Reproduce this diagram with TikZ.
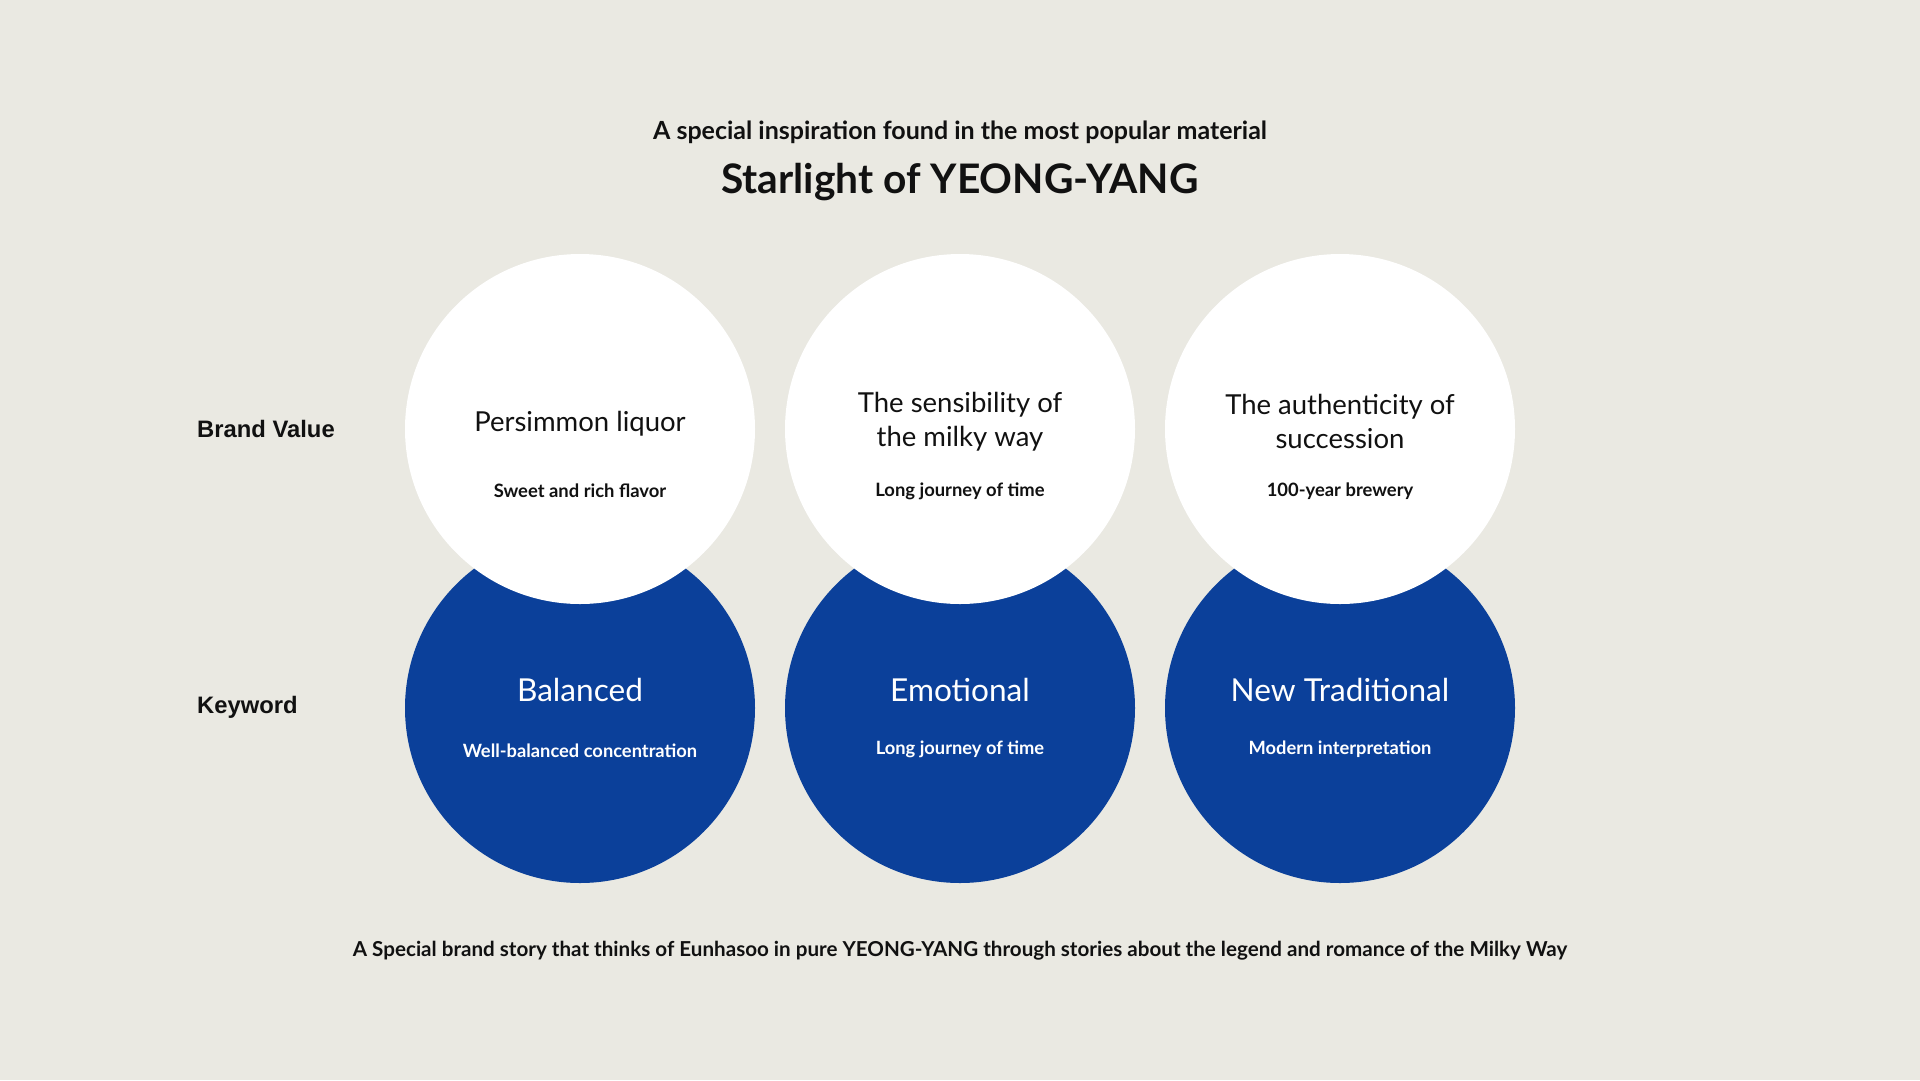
\documentclass[tikz,border=0pt]{standalone}
\usepackage{fontspec}
\setmainfont{Lato}
\newfontfamily\labelfont{Liberation Sans}
\definecolor{bgc}{HTML}{EAE9E2}
\definecolor{bluec}{HTML}{0B409A}
\definecolor{txtc}{HTML}{111111}
\tikzset{
  whitecirc/.style={circle, fill=white, minimum size=350pt, inner sep=0pt},
  bluecirc/.style={circle, fill=bluec, minimum size=350pt, inner sep=0pt},
  headtxt/.style={font=\fontsize{27.5}{34}\selectfont, text=txtc, align=center, inner sep=0pt},
  subtxt/.style={font=\fontsize{18.4}{22}\selectfont\bfseries, text=txtc, inner sep=0pt},
  keytxt/.style={font=\fontsize{31.6}{36}\selectfont, text=white, inner sep=0pt},
  keysub/.style={font=\fontsize{18.3}{22}\selectfont\bfseries, text=white, inner sep=0pt},
  rowlabel/.style={font=\labelfont\bfseries\fontsize{23.8}{28}\selectfont, text=txtc, anchor=west, inner sep=0pt},
}
\begin{document}
\begin{tikzpicture}[x=1pt,y=-1pt]
\fill[bgc] (0,0) rectangle (1920,1080);
\useasboundingbox (0,0) rectangle (1920,1080);

\node[font=\fontsize{25}{30}\selectfont\bfseries, text=txtc, inner sep=0pt] (sub) at (960,132) {A special inspiration found in the most popular material};
\node[font=\fontsize{40.7}{46}\selectfont\bfseries, text=txtc, inner sep=0pt] (title) at (960,182) {Starlight of YEONG-YANG};

\node[bluecirc] (b1) at (580,708) {};
\node[bluecirc] (b2) at (960,708) {};
\node[bluecirc] (b3) at (1340,708) {};
\node[whitecirc] (w1) at (580,429) {};
\node[whitecirc] (w2) at (960,429) {};
\node[whitecirc] (w3) at (1340,429) {};

\node[rowlabel] (lbv) at (197,429) {Brand Value};
\node[rowlabel] (lkw) at (197,707) {Keyword};

\node[headtxt] (h1) at (580,424) {Persimmon liquor};
\node[subtxt] (s1) at (580,491) {Sweet and rich flavor};
\node[headtxt] (h2) at (960,422) {The sensibility of\\the milky way};
\node[subtxt] (s2) at (960,491) {Long journey of time};
\node[headtxt] (h3) at (1340,421.5) {The authenticity of\\succession};
\node[subtxt] (s3) at (1340,491) {100-year brewery};

\node[keytxt] (k1) at (580,690) {Balanced};
\node[keysub] (ks1) at (580,751) {Well-balanced concentration};
\node[keytxt] (k2) at (960,690) {Emotional};
\node[keysub] (ks2) at (960,749) {Long journey of time};
\node[keytxt] (k3) at (1340,690) {New Traditional};
\node[keysub] (ks3) at (1340,749) {Modern interpretation};

\node[font=\fontsize{20.6}{24}\selectfont\bfseries, text=txtc, inner sep=0pt] (foot) at (960,950.5) {A Special brand story that thinks of Eunhasoo in pure YEONG-YANG through stories about the legend and romance of the Milky Way};
\end{tikzpicture}
\end{document}
